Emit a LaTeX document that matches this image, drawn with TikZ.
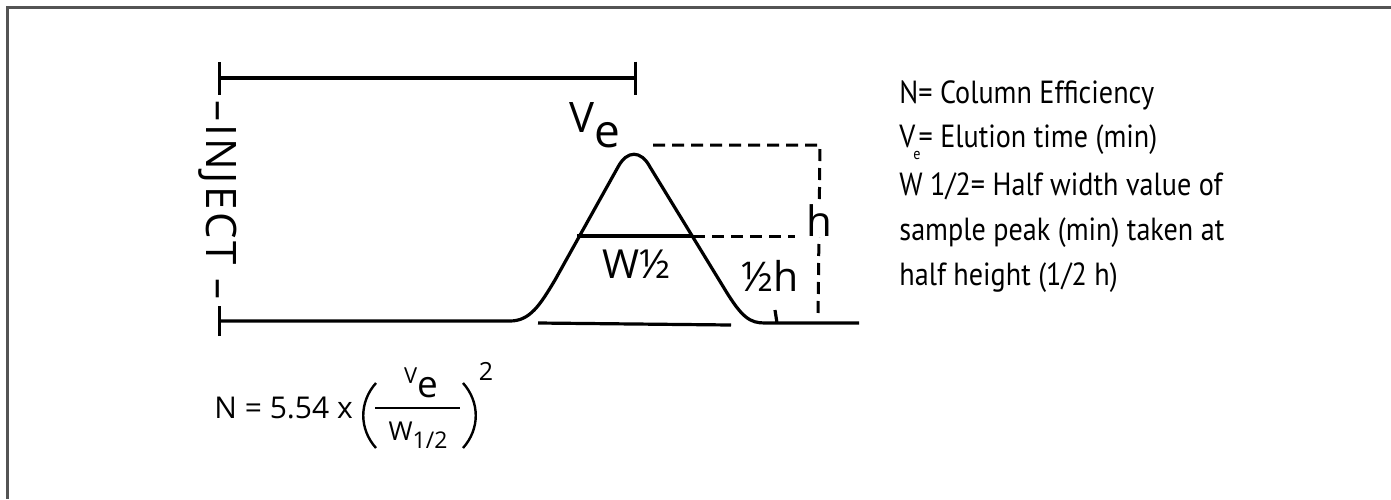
\documentclass[tikz,border=0pt]{standalone}
\usepackage{fontspec}
\setmainfont{Open Sans}
\newfontfamily\legendfont[FakeStretch=0.88]{PT Sans}
\usetikzlibrary{arrows.meta}
\begin{document}
\begin{tikzpicture}
  [x=0.5pt, y=-0.5pt,
   trace/.style={line width=1.6pt, line join=round},
   guide/.style={line width=1.5pt, dash pattern=on 6pt off 3.5pt},
   paren/.style={line width=1.2pt},
   tag/.style={inner sep=0pt},
   legend/.style={font=\legendfont\fontsize{16}{19}\selectfont, anchor=base west, inner sep=0pt}]
  \useasboundingbox (0,0) rectangle (1391,499);
  \draw[line width=1.5pt, black!67] (1391,7) -- (7,7) -- (7,499);

  \coordinate (inj) at (218,78);
  \coordinate (ret) at (637,78);
  \coordinate (base) at (218,321);
  \coordinate (rise) at (510,321);
  \coordinate (fall) at (765,323);
  \coordinate (end) at (859,323);
  \coordinate (hl) at (577,236);
  \coordinate (hr) at (693,236);
  \coordinate (hd) at (795,236);
  \coordinate (top) at (653,145);
  \coordinate (topr) at (820,145);
  \coordinate (hbase) at (818,317);
  \coordinate (wl) at (538,323);
  \coordinate (wr) at (731,325);

  \draw[trace, {Bar[width=16.5pt]}-{Bar[width=16.5pt]}] (inj) -- (ret);
  \draw[trace, {Bar[width=15pt]}-] (base) -- (rise)
    .. controls (530,321) and (540,305) .. (555,280) -- (618,167)
    .. controls (627,150) and (641,150) .. (650,167) -- (724,288)
    .. controls (742,318) and (750,323) .. (fall) -- (end);
  \draw[trace] (hl) -- (hr);
  \draw[guide] (hr) -- (hd);
  \draw[guide] (top) -- (topr) -- node[tag, pos=0.44, fill=white, font=\fontsize{21}{24}\selectfont] (h) {h} (hbase);
  \draw[trace] (wl) -- (wr);
  \draw[trace] (775,310) -- (777,323);

  \node[tag, rotate=-90, font=\fontsize{21}{24}\selectfont\addfontfeature{LetterSpace=6}] (inject) at (218,200) {–INJECT –};
  \node[tag, font=\fontsize{21}{24}\selectfont] (ve) at (595,125) {V\raisebox{-7.5pt}{\fontsize{23}{24}\selectfont e}};
  \node[tag, font=\fontsize{20}{24}\selectfont] (whalf) at (637,264) {W½};
  \node[tag, font=\fontsize{20.5}{24}\selectfont] (halfh) at (770,276) {½h};

  \node[tag, anchor=base west, font=\fontsize{15}{18}\selectfont] (eq) at (214,418) {N = 5.54 x};
  \node[tag, anchor=base] (num) at (421,397)
    {\raisebox{7pt}{\fontsize{11}{12}\selectfont V}\fontsize{18.5}{20}\selectfont e};
  \node[tag, anchor=base] (den) at (418,440)
    {\fontsize{13}{14}\selectfont W\raisebox{-4pt}{\fontsize{11.5}{14}\selectfont 1/2}};
  \node[tag, anchor=base, font=\fontsize{12.5}{14}\selectfont] (sq) at (486,380) {2};
  \draw[line width=1pt] (375,408) -- (460,408);
  \draw[paren] (376,383) .. controls (359,402) and (359,429) .. (376,448);
  \draw[paren] (463,383) .. controls (480,402) and (480,429) .. (463,448);

  \node[legend] (n) at (899,103) {N= Column Efficiency};
  \node[legend] (elution) at (899,147) {V\hspace{-1pt}\raisebox{-6pt}{\fontsize{8}{9}\selectfont e}\hspace{-1pt}= Elution time (min)};
  \node[legend] (width) at (899,195) {W 1/2= Half width value of};
  \node[legend] (sample) at (899,240) {sample peak (min) taken at};
  \node[legend] (height) at (899,285) {half height (1/2 h)};
\end{tikzpicture}
\end{document}
